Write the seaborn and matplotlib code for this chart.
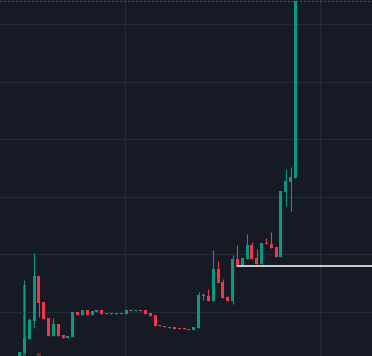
import numpy as np
import pandas as pd
import matplotlib
matplotlib.use("Agg")
import matplotlib.pyplot as plt
import seaborn as sns

# ---- data ----
opens = [2.01, 2.88, 5.31, 8.44, 16.25, 11.74, 8.96, 5.83, 7.92, 6.01,
         5.49, 5.66, 10.00, 9.48, 10.35, 9.48, 10.00, 10.35, 9.65, 9.83,
         9.65, 9.65, 9.65, 10.35, 10.17, 10.35, 10.35, 9.83, 9.48, 7.74,
         7.57, 7.22, 7.40, 7.22, 7.22, 6.88, 6.88, 7.22, 12.95, 12.78,
         11.91, 17.47, 15.21, 12.60, 11.91, 19.20, 18.16, 19.20, 21.63, 19.38,
         18.33, 21.98, 21.81, 21.28, 19.55, 30.83, 32.57, 33.26]
closes = [3.06, 5.49, 8.61, 16.25, 11.56, 8.78, 5.83, 7.92, 5.83, 5.49,
          5.83, 10.00, 9.48, 10.35, 9.48, 10.17, 10.35, 9.65, 9.83, 9.65,
          9.83, 9.83, 10.35, 10.17, 10.35, 10.17, 9.65, 9.31, 7.57, 7.57,
          7.40, 7.40, 7.05, 7.05, 7.05, 7.05, 7.40, 12.95, 12.78, 11.91,
          17.47, 15.03, 12.43, 11.91, 19.20, 18.16, 19.38, 21.63, 19.20, 18.33,
          21.98, 21.81, 21.11, 19.55, 31.01, 32.74, 33.44, 63.99]
highs = [3.06, 15.56, 8.96, 20.24, 16.25, 11.74, 8.96, 8.96, 7.92, 6.01,
         5.83, 10.00, 10.00, 10.35, 10.35, 10.17, 10.35, 10.35, 9.83, 9.83,
         9.83, 9.83, 10.35, 10.52, 10.35, 10.35, 10.35, 9.83, 9.48, 7.74,
         7.57, 7.40, 7.40, 7.22, 7.22, 7.05, 7.40, 13.47, 13.30, 13.99,
         20.76, 18.85, 15.73, 12.78, 19.90, 21.63, 19.38, 23.54, 22.15, 20.94,
         21.98, 22.85, 23.89, 21.28, 31.01, 34.83, 35.17, 63.99]
lows = [2.01, 2.88, 5.31, 7.22, 9.13, 8.78, 5.83, 5.83, 5.83, 5.49,
        5.49, 5.66, 9.48, 9.48, 9.48, 9.48, 10.00, 9.65, 9.65, 9.65,
        9.65, 9.65, 9.65, 10.17, 10.17, 10.17, 9.65, 9.31, 7.57, 7.57,
        7.40, 7.22, 7.05, 7.05, 7.05, 6.88, 6.88, 7.22, 12.08, 11.91,
        11.91, 15.03, 12.43, 11.91, 11.39, 18.16, 18.16, 19.20, 19.20, 18.33,
        18.33, 21.81, 21.11, 19.55, 19.55, 28.40, 27.53, 33.26]
volumes = [0, 710, 0, 0, 30, 0, 0, 0, 0, 0,
           0, 0, 0, 0, 0, 0, 0, 0, 0, 0,
           0, 0, 0, 0, 0, 0, 0, 0, 0, 0,
           0, 0, 0, 0, 0, 0, 0, 0, 0, 0,
           0, 0, 0, 0, 0, 0, 0, 0, 0, 0,
           0, 0, 0, 0, 0, 0, 0, 0]
level_price = 18.0      # horizontal white level
level_start = 45        # candle index where the level begins

# ---- style ----
BG = "#161A25"
GRID = "#252935"
UP = "#089981"
DOWN = "#F23645"
UP_VOL = "#1E5E57"
DOWN_VOL = "#6E2B36"

sns.set_style("dark", rc={"axes.facecolor": BG, "figure.facecolor": BG,
                          "grid.color": GRID})

df = pd.DataFrame({"open": opens, "high": highs, "low": lows,
                   "close": closes, "volume": volumes})
df["idx"] = np.arange(len(df))
df["up"] = df["close"] >= df["open"]

fig = plt.figure(figsize=(3.72, 3.56), dpi=100)
pitch = 4.842
xlim = (-19.5 / pitch, (372 - 19.5) / pitch)
ylim = (2.36, 64.17)

# volume / background axes
axv = fig.add_axes([0, 0, 1, 1])
axv.set_facecolor(BG)
axv.set_xlim(*xlim)
axv.set_ylim(0, 3560)
axv.set_xticks([21.89, 61.96])
axv.set_yticks([])
axv.grid(True, axis="x", color=GRID, linewidth=1)
vcols = [UP_VOL if u else DOWN_VOL for u in df["up"]]
axv.bar(df["idx"], df["volume"], width=0.75, color=vcols, linewidth=0)

# price axes
ax = fig.add_axes([0, 0, 1, 1])
ax.patch.set_visible(False)
ax.set_xlim(*xlim)
ax.set_ylim(*ylim)
ax.set_yticks([10, 20, 30, 40, 50, 60])
ax.set_xticks([])
ax.grid(True, axis="y", color=GRID, linewidth=1)
ax.set_axisbelow(True)

cols = [UP if u else DOWN for u in df["up"]]
ax.vlines(df["idx"], df["low"], df["high"], colors=cols, linewidth=0.8, zorder=2)
body_bottom = np.minimum(df["open"], df["close"])
body_h = np.maximum(np.abs(df["close"] - df["open"]), 0.17)
ax.bar(df["idx"], body_h, bottom=body_bottom, width=0.62, color=cols,
       linewidth=0, zorder=3)

# white horizontal level
lvl = pd.DataFrame({"x": [level_start, xlim[1]], "y": [level_price, level_price]})
sns.lineplot(data=lvl, x="x", y="y", ax=ax, color="white", linewidth=1.1, zorder=4)

# last price dotted line
ax.axhline(closes[-1], color=UP, linewidth=0.9, linestyle=(0, (1, 2.2)), zorder=1)

for a in (ax, axv):
    for s in a.spines.values():
        s.set_visible(False)
    a.tick_params(length=0, labelleft=False, labelbottom=False)
    a.set_xlabel("")
    a.set_ylabel("")

fig.savefig("out.png", dpi=100, facecolor=BG)
